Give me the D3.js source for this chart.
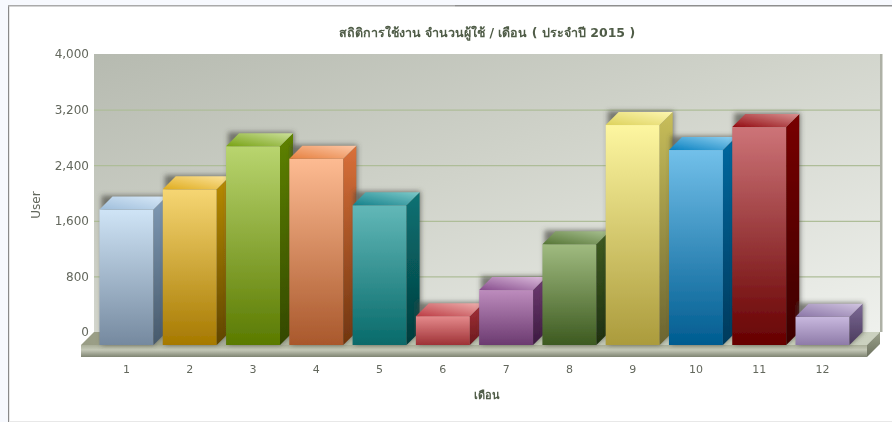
<!DOCTYPE html>
<html>
<head>
<meta charset="utf-8">
<script src="https://cdn.jsdelivr.net/npm/d3@7"></script>
<style>
  html, body { margin: 0; padding: 0; background: #f7f9fe; }
  svg { display: block; }
  text { font-family: "DejaVu Sans", "Noto Sans", sans-serif; }
</style>
</head>
<body>
<div id="chart"></div>
<script>
// Chart data
const months = ["1", "2", "3", "4", "5", "6", "7", "8", "9", "10", "11", "12"];
const users = [1950, 2240, 2860, 2680, 2010, 415, 790, 1450, 3165, 2805, 3135, 405];
const yTicks = [0, 800, 1600, 2400, 3200, 4000];
const chartTitle = "สถิติการใช้งาน จำนวนผู้ใช้ / เดือน ( ประจำปี 2015 )";
const xTitle = "เดือน";
const yTitle = "User";

// Bar colours: front top, front bottom, side top, side bottom, roof dark, roof light
const palette = [
  ["#cfe4f6", "#75899f", "#7f9ab5", "#47596b", "#9fbedb", "#d8e9f8"],
  ["#f6d673", "#a67900", "#b88c05", "#604500", "#dfac1e", "#fce39a"],
  ["#b9d56f", "#5a7a00", "#5e8200", "#334800", "#78a214", "#cbe09a"],
  ["#fdbb92", "#a9582c", "#d9703a", "#70350f", "#e6803f", "#fdc7a6"],
  ["#62b8b8", "#086a6a", "#0a7274", "#033c3c", "#14808a", "#7cc9c9"],
  ["#e58a8c", "#9e3236", "#a83038", "#6a1a1e", "#bc3c44", "#eeb0ae"],
  ["#bd8cbd", "#6b3a70", "#6e3a72", "#3c1a40", "#864c8c", "#dcbcdc"],
  ["#a0bb80", "#3d5a20", "#3f5c22", "#1e3010", "#557535", "#a8c090"],
  ["#fdf6a0", "#ab9b3c", "#c8be5a", "#6b6430", "#ddd25c", "#fdf6b0"],
  ["#72c0ea", "#005c90", "#0068a0", "#003a5c", "#0880c0", "#90d0f0"],
  ["#cd7478", "#660000", "#780000", "#3c0000", "#920a10", "#d89090"],
  ["#c8b8de", "#8e7ba8", "#7d6a96", "#4a3a5c", "#8a74a6", "#d0c4e0"]
];

const width = 892;
const height = 422;
const depth = 13;

// Scales for the front plane of the bars
const x = d3.scaleBand()
    .domain(months)
    .range([99.5, 849.5])
    .paddingInner(0.147);

const y = d3.scaleLinear()
    .domain([0, 4000])
    .range([345, 67]);

const svg = d3.select("#chart").append("svg")
    .attr("width", width)
    .attr("height", height)
    .attr("viewBox", [0, 0, width, height]);

const defs = svg.append("defs");

function gradient(id, x1, y1, x2, y2, stops) {
  const g = defs.append("linearGradient").attr("id", id)
      .attr("x1", x1).attr("y1", y1).attr("x2", x2).attr("y2", y2);
  stops.forEach(([offset, color]) => {
    g.append("stop").attr("offset", offset).attr("stop-color", color);
  });
}

gradient("wall", 0, 0, 1, 1, [[0, "#b6bab0"], [0.45, "#d0d3ca"], [1, "#eff1ed"]]);
gradient("floorFront", 0, 0, 0, 1, [[0, "#a9ae98"], [0.4, "#c5c9b8"], [1, "#7f8472"]]);
gradient("floorTop", 0, 0, 1, 0, [[0, "#989c84"], [0.12, "#a8ad97"], [0.5, "#c5ccb8"], [1, "#cbd1bf"]]);
gradient("floorSide", 0, 0, 0, 1, [[0, "#9aa08a"], [1, "#6e7360"]]);
palette.forEach((c, i) => {
  gradient(`front${i}`, 0, 0, 0, 1, [[0, c[0]], [1, c[1]]]);
  gradient(`side${i}`, 0, 0, 0, 1, [[0, c[2]], [1, c[3]]]);
  gradient(`roof${i}`, 0, 1, 1, 0, [[0, c[4]], [1, c[5]]]);
});

const shadow = defs.append("filter").attr("id", "shadow")
    .attr("x", "-20%").attr("y", "-20%").attr("width", "140%").attr("height", "140%");
shadow.append("feGaussianBlur").attr("stdDeviation", 2.5);

const soft = defs.append("filter").attr("id", "soft")
    .attr("x", 0).attr("y", 0).attr("width", "100%").attr("height", "100%");
soft.append("feGaussianBlur").attr("stdDeviation", 0.4);

const root = svg.append("g").attr("filter", "url(#soft)");

// White chart panel with the grey frame
root.append("rect").attr("x", 9).attr("y", 6).attr("width", width - 9).attr("height", height - 7)
    .attr("fill", "#fff");
root.append("line").attr("x1", 8.5).attr("x2", 8.5).attr("y1", 5).attr("y2", height)
    .attr("stroke", "#8a8a8a").attr("stroke-width", 1.4);
root.append("line").attr("x1", 8).attr("x2", 455).attr("y1", 5.8).attr("y2", 5.8)
    .attr("stroke", "#aaaaaa").attr("stroke-width", 1.6);
root.append("line").attr("x1", 455).attr("x2", width).attr("y1", 5.8).attr("y2", 5.8)
    .attr("stroke", "#8e8e8e").attr("stroke-width", 1.6);
root.append("line").attr("x1", 9).attr("x2", width).attr("y1", height - 0.5).attr("y2", height - 0.5)
    .attr("stroke", "#e8e8e8");

// Back wall
const wallLeft = 94;
const wallRight = 880;
root.append("rect")
    .attr("x", wallLeft).attr("y", y(4000) - depth)
    .attr("width", wallRight - wallLeft).attr("height", y(0) - y(4000))
    .attr("fill", "url(#wall)");
root.append("rect")
    .attr("x", wallRight).attr("y", y(4000) - depth)
    .attr("width", 2.5).attr("height", y(0) - y(4000))
    .attr("fill", "#aeb1a6");

// Y axis, sits on the back wall
const yAxis = root.append("g")
    .attr("transform", `translate(${wallLeft},${-depth})`)
    .call(d3.axisLeft(y).tickValues(yTicks).tickFormat(d3.format(",")).tickSize(0).tickPadding(5))
    .call(g => g.select(".domain").remove());
yAxis.selectAll(".tick").filter(d => d !== 4000).select("line").clone()
    .attr("x2", wallRight - wallLeft)
    .attr("stroke", "#aebd98")
    .attr("stroke-width", 1.2);
yAxis.selectAll("text").attr("font-size", 12).attr("fill", "#63675d");

// Floor slab
const floorLeft = wallLeft - depth;
const floorRight = wallRight - depth;
const floorY = y(0);
root.append("polygon")
    .attr("points", [[floorLeft, floorY], [wallLeft, floorY - depth], [wallRight, floorY - depth], [floorRight, floorY]].join(" "))
    .attr("fill", "url(#floorTop)");
root.append("rect")
    .attr("x", floorLeft).attr("y", floorY)
    .attr("width", floorRight - floorLeft).attr("height", 12)
    .attr("fill", "url(#floorFront)");
root.append("polygon")
    .attr("points", [[floorRight, floorY], [wallRight, floorY - depth], [wallRight, floorY - 1], [floorRight, floorY + 12]].join(" "))
    .attr("fill", "url(#floorSide)");

// Bars
const bars = root.append("g").selectAll("g")
    .data(users)
    .join("g");

const barX = (d, i) => x(months[i]);

bars.append("polygon")
    .attr("points", (d, i) => {
      const l = barX(d, i), r = l + x.bandwidth(), t = y(d), b = y(0);
      return [[l + 2, t - depth - 1], [r + depth + 1, t - depth - 1], [r + depth + 1, b - depth], [r, b], [l + 2, b]].join(" ");
    })
    .attr("fill", "#45453d")
    .attr("fill-opacity", 0.65)
    .attr("filter", "url(#shadow)");

bars.append("rect")
    .attr("x", barX)
    .attr("y", d => y(d))
    .attr("width", x.bandwidth())
    .attr("height", d => y(0) - y(d))
    .attr("fill", (d, i) => `url(#front${i})`);

bars.append("polygon")
    .attr("points", (d, i) => {
      const r = barX(d, i) + x.bandwidth(), t = y(d), b = y(0);
      return [[r, t], [r + depth, t - depth], [r + depth, b - depth], [r, b]].join(" ");
    })
    .attr("fill", (d, i) => `url(#side${i})`);

bars.append("polygon")
    .attr("points", (d, i) => {
      const l = barX(d, i), r = l + x.bandwidth(), t = y(d);
      return [[l, t], [l + depth, t - depth], [r + depth, t - depth], [r, t]].join(" ");
    })
    .attr("fill", (d, i) => `url(#roof${i})`);

// X axis
const xAxis = root.append("g")
    .attr("transform", `translate(0,${floorY + 12})`)
    .call(d3.axisBottom(x).tickSize(0).tickPadding(8))
    .call(g => g.select(".domain").remove());
xAxis.selectAll("text").attr("font-size", 11).attr("fill", "#63675d");

// Titles
root.append("text")
    .attr("x", 487).attr("y", 37)
    .attr("text-anchor", "middle")
    .attr("font-size", 12.5)
    .attr("font-weight", "bold")
    .attr("fill", "#4f5c47")
    .text(chartTitle);

root.append("text")
    .attr("x", 487).attr("y", 399)
    .attr("text-anchor", "middle")
    .attr("font-size", 11)
    .attr("font-weight", "bold")
    .attr("fill", "#4f5c47")
    .text(xTitle);

root.append("text")
    .attr("transform", "translate(40,205) rotate(-90)")
    .attr("text-anchor", "middle")
    .attr("font-size", 12)
    .attr("fill", "#63675d")
    .text(yTitle);
</script>
</body>
</html>
